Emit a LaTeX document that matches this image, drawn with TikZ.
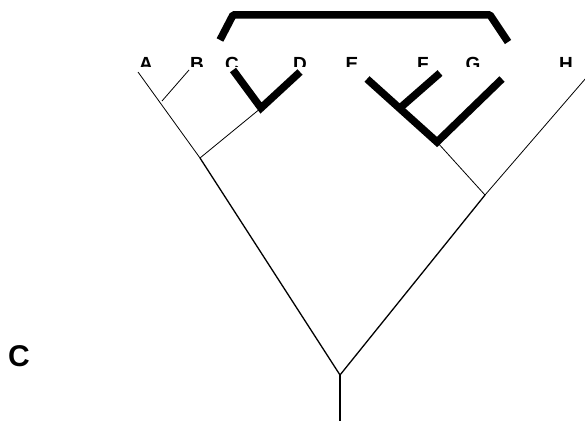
\documentclass[tikz,border=0pt]{standalone}
\usepackage{fontspec}
\setmainfont{Liberation Sans}
\begin{document}
\begin{tikzpicture}[x=1pt,y=-1pt,
  thinline/.style={line width=0.8pt},
  midline/.style={line width=1.3pt},
  heavy/.style={line width=7.5pt},
  taxon/.style={font=\fontsize{19}{19}\selectfont\bfseries, anchor=base, inner sep=0pt},
  panel/.style={font=\fontsize{30}{30}\selectfont\bfseries, anchor=base, inner sep=0pt}]
\useasboundingbox (0,0) rectangle (585,422);
% taxon labels (clipped at bottom as in the original)
\begin{scope}
\clip (0,0) rectangle (585,67);
\node[taxon] (lA) at (146,70.5) {A};
\node[taxon] (lB) at (197,70.5) {B};
\node[taxon] (lC) at (232,70.5) {C};
\node[taxon] (lD) at (300,70.5) {D};
\node[taxon] (lE) at (352,70.5) {E};
\node[taxon] (lF) at (423,70.5) {F};
\node[taxon] (lG) at (473,70.5) {G};
\node[taxon] (lH) at (566,70.5) {H};
\end{scope}
\node[panel] (panel) at (19,366) {C};
% tips and internal nodes
\coordinate (tA) at (138,72);
\coordinate (tB) at (189,70);
\coordinate (tC) at (233,70);
\coordinate (tD) at (300,72);
\coordinate (tE) at (367,79);
\coordinate (tF) at (440,73);
\coordinate (tG) at (502,79);
\coordinate (tH) at (586,78);
\coordinate (nAB) at (162,101);
\coordinate (nCD) at (261,108);
\coordinate (nABCD) at (200,158);
\coordinate (nEF) at (400,108);
\coordinate (nEFG) at (437,142);
\coordinate (nEFGH) at (485,195);
\coordinate (root) at (340,375);
\coordinate (stem) at (340,421);
% bracket
\coordinate (b1) at (220,40);
\coordinate (b2) at (233,15);
\coordinate (b3) at (490,15);
\coordinate (b4) at (508,42);
% thin branches
\draw[thinline] (tA) -- (nABCD);
\draw[thinline] (tB) -- (nAB);
\draw[thinline] (nCD) -- (nABCD);
\draw[thinline] (nEFG) -- (nEFGH);
\draw[thinline] (tH) -- (nEFGH);
% deep branches
\draw[midline] (nABCD) -- (root);
\draw[midline] (nEFGH) -- (root);
\draw[midline] (root) -- (stem);
% heavy branches
\draw[heavy, line join=miter] (tC) -- (nCD) -- (tD);
\draw[heavy, line join=miter] (tE) -- (nEFG) -- (tG);
\draw[heavy] (tF) -- (nEF);
\draw[heavy, line join=bevel] (b1) -- (b2) -- (b3) -- (b4);
\end{tikzpicture}
\end{document}
